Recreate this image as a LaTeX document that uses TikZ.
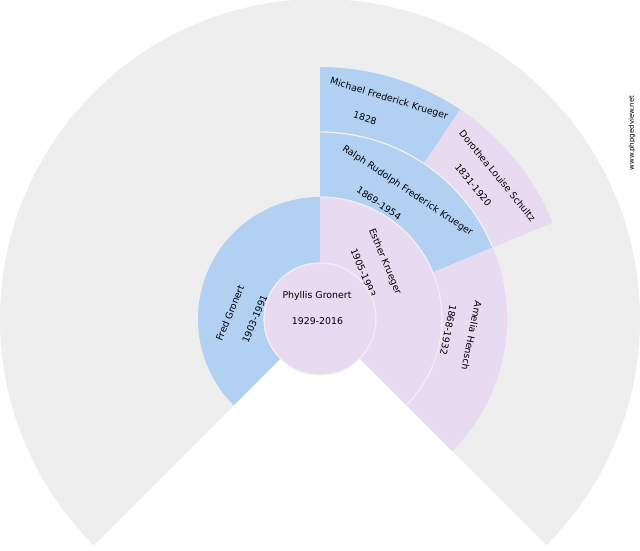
\documentclass[tikz,border=0pt]{standalone}
\usepackage{fontspec}
\setmainfont{DejaVu Sans}
\definecolor{male}{HTML}{B2D0F2}
\definecolor{female}{HTML}{E8DAF0}
\definecolor{bg}{HTML}{EEEEEE}
\definecolor{rim}{HTML}{F2EEF2}
\newcommand\fansector[5]{%
  \fill[#1] ([shift={(#4:#2)}]c) arc[start angle=#4,end angle=#5,radius=#2]
    -- ([shift={(#5:#3)}]c) arc[start angle=#5,end angle=#4,radius=#3] -- cycle;}
\begin{document}
\begin{tikzpicture}[x=1pt,y=1pt,
  lbl/.style={inner sep=0pt, font=\fontsize{9.4}{10}\selectfont},
  sep/.style={draw=rim, line width=1.3pt}]
\useasboundingbox (0,0) rectangle (640,550);
\fill[white] (0,0) rectangle (640,550);
\coordinate (c) at (320,231);
\fill[bg] (c) -- ++(-45:320) arc[start angle=-45,end angle=225,radius=320] -- cycle;
% ring 3
\fansector{male}{187}{252}{56.25}{90}
\fansector{female}{187}{252}{22.5}{56.25}
% ring 2
\fansector{male}{122}{187}{22.5}{90}
\fansector{female}{122}{187}{-45}{22.5}
% ring 1
\fansector{male}{56}{122}{90}{225}
\fansector{female}{56}{122}{-45}{90}
% separators
\draw[sep] ([shift={(22.5:187)}]c) arc[start angle=22.5,end angle=90,radius=187];
\draw[sep] ([shift={(-45:122)}]c) arc[start angle=-45,end angle=90,radius=122];
% ring 3 texts
\node[lbl, rotate=-16.875] (michael) at (389,451) {Michael Frederick Krueger};
\node[lbl, rotate=-16.875] (michaeld) at (365,432) {1828};
\node[lbl, rotate=-50.625] (dorothea) at (497.5,374.2) {Dorothea Louise Schultz};
\node[lbl, rotate=-50.625] (dorothead) at (473.3,365) {1831-1920};
% ring 2 texts
\node[lbl, rotate=-33.75] (ralph) at (407.5,359.2) {Ralph Rudolph Frederick Krueger};
\node[lbl, rotate=-33.75] (ralphd) at (379,346.7) {1869-1954};
\node[lbl, rotate=-101.25] (amelia) at (471.7,214.2) {Amelia Hensch};
\node[lbl, rotate=-101.25] (ameliad) at (448.3,220) {1868-1932};
% ring 1 texts
\node[lbl, rotate=67.5] (fred) at (230,237) {Fred Gronert};
\node[lbl, rotate=67.5] (fredd) at (254.7,231) {1903-1991};
\node[lbl, rotate=-67.5] (esther) at (384.7,288.3) {Esther Krueger};
\node[lbl, rotate=-67.5] (estherd) at (363.3,277.3) {1905-1993};
% centre
\fill[female] (c) circle[radius=56];
\draw[sep] (c) circle[radius=56];
\node[lbl] (phyllis) at (317,254) {Phyllis Gronert};
\node[lbl] (phyllisd) at (317.5,229) {1929-2016};
% watermark
\node[inner sep=0pt, font=\fontsize{7}{8}\selectfont, rotate=90] (wm) at (632,417) {www.phpgedview.net};
\end{tikzpicture}
\end{document}
